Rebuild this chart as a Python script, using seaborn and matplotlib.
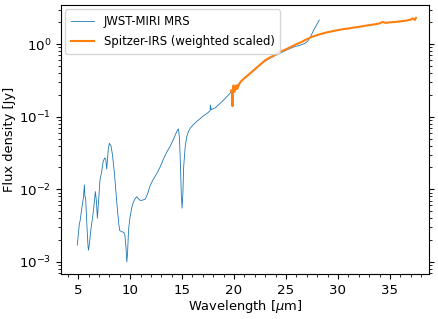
import numpy as np
import pandas as pd
import matplotlib
matplotlib.use("Agg")
import matplotlib.pyplot as plt
import seaborn as sns
from matplotlib.ticker import MultipleLocator

# JWST-MIRI MRS spectrum
jwst_wave = [4.92, 5.0, 5.1, 5.2, 5.35, 5.5, 5.6, 5.65, 5.72, 5.85, 5.95, 6.0, 6.1,
             6.25, 6.4, 6.55, 6.65, 6.75, 6.85, 6.95, 7.1, 7.25, 7.4, 7.55, 7.65,
             7.75, 7.9, 8.0, 8.15, 8.3, 8.5, 8.7, 8.9, 9.0, 9.2, 9.4, 9.5, 9.6,
             9.68, 9.75, 9.85, 10.0, 10.15, 10.3, 10.5, 10.65, 10.8, 11.0, 11.2,
             11.45, 11.7, 11.9, 12.2, 12.57, 12.9, 13.2, 13.55, 13.85, 14.2, 14.5,
             14.65, 14.75, 14.85, 14.93, 15.0, 15.08, 15.15, 15.3, 15.45, 15.6,
             15.8, 16.1, 16.4, 16.7, 17.1, 17.5, 17.7, 17.72, 17.8, 18.2, 18.6,
             19.0, 19.4, 19.8, 20.3, 20.8, 21.3, 21.8, 22.3, 22.8, 23.3, 23.8,
             24.3, 24.8, 25.3, 25.8, 26.3, 26.8, 27.1, 27.4, 27.7, 28.0, 28.2]
jwst_flux = [1.7e-3, 2.3e-3, 3.2e-3, 3.8e-3, 5.5e-3, 7.5e-3, 11.5e-3, 8.0e-3,
             7.5e-3, 3.0e-3, 1.6e-3, 1.45e-3, 1.9e-3, 3.0e-3, 4.2e-3, 6.5e-3,
             9.3e-3, 7.0e-3, 4.0e-3, 6.5e-3, 1.35e-2, 1.7e-2, 2.4e-2, 2.7e-2,
             2.6e-2, 1.9e-2, 3.6e-2, 4.3e-2, 4.0e-2, 3.0e-2, 1.6e-2, 7.0e-3,
             3.4e-3, 2.7e-3, 2.6e-3, 2.55e-3, 2.3e-3, 1.6e-3, 1.0e-3, 1.3e-3,
             2.8e-3, 4.2e-3, 5.5e-3, 6.6e-3, 7.5e-3, 7.9e-3, 7.4e-3, 7.0e-3,
             7.1e-3, 7.3e-3, 8.8e-3, 1.1e-2, 1.35e-2, 1.65e-2, 2.05e-2, 2.6e-2,
             3.3e-2, 3.9e-2, 5.0e-2, 6.3e-2, 6.8e-2, 5.0e-2, 2.0e-2, 8.0e-3,
             5.5e-3, 9.0e-3, 2.0e-2, 3.9e-2, 5.3e-2, 6.2e-2, 7.0e-2, 7.8e-2,
             8.6e-2, 9.3e-2, 0.104, 0.114, 0.122, 0.145, 0.125, 0.133, 0.150,
             0.170, 0.195, 0.225, 0.27, 0.32, 0.37, 0.43, 0.49, 0.56, 0.62,
             0.68, 0.73, 0.80, 0.86, 0.92, 0.96, 1.02, 1.10, 1.30, 1.60, 1.90, 2.15]

# Spitzer-IRS spectrum, weighted and scaled
irs_wave = [19.7, 19.8, 19.85, 19.9, 19.95, 20.05, 20.2, 20.3, 20.4, 20.55, 20.7,
            21.0, 21.5, 22.0, 22.5, 23.0, 23.5, 24.0, 24.5, 25.0, 25.5, 26.0,
            26.5, 27.0, 27.5, 28.0, 28.5, 29.0, 29.5, 30.0, 30.5, 31.0, 31.5,
            32.0, 32.5, 33.0, 33.5, 34.0, 34.3, 34.6, 35.0, 35.5, 36.0, 36.5,
            37.0, 37.2, 37.4, 37.5]
irs_flux = [0.23, 0.21, 0.14, 0.25, 0.27, 0.22, 0.27, 0.24, 0.26, 0.29, 0.31,
            0.34, 0.39, 0.45, 0.52, 0.60, 0.66, 0.72, 0.79, 0.85, 0.92, 1.0,
            1.07, 1.17, 1.26, 1.33, 1.40, 1.46, 1.51, 1.56, 1.61, 1.64, 1.69,
            1.73, 1.78, 1.83, 1.87, 1.93, 2.02, 1.96, 2.0, 2.02, 2.06, 2.1,
            2.18, 2.27, 2.15, 2.3]

jwst = pd.DataFrame({"wave": jwst_wave, "flux": jwst_flux})
irs = pd.DataFrame({"wave": irs_wave, "flux": irs_flux})

plt.rcParams["font.size"] = 9.6
fig, ax = plt.subplots(figsize=(4.39, 3.19), dpi=100)

sns.lineplot(data=jwst, x="wave", y="flux", ax=ax, color="#1f77b4", lw=0.6,
             sort=False, estimator=None, label="JWST-MIRI MRS")
sns.lineplot(data=irs, x="wave", y="flux", ax=ax, color="#ff7f0e", lw=1.5,
             sort=False, estimator=None, label="Spitzer-IRS (weighted scaled)")

ax.set_yscale("log")
ax.set_xlim(3.35, 38.75)
ax.set_ylim(6.8e-4, 3.45)
ax.xaxis.set_minor_locator(MultipleLocator(1))
ax.tick_params(which="both", right=True, top=False)
ax.set_xlabel(r"Wavelength [$\mu$m]", fontsize=9.4, labelpad=1)
ax.set_ylabel("Flux density [Jy]", fontsize=9.4, labelpad=2)
ax.legend(loc="upper left", fontsize=8.4, labelspacing=0.6, borderpad=0.5,
          borderaxespad=0.35)

fig.subplots_adjust(left=0.139, right=0.977, top=0.984, bottom=0.141)
fig.savefig("out.png")
